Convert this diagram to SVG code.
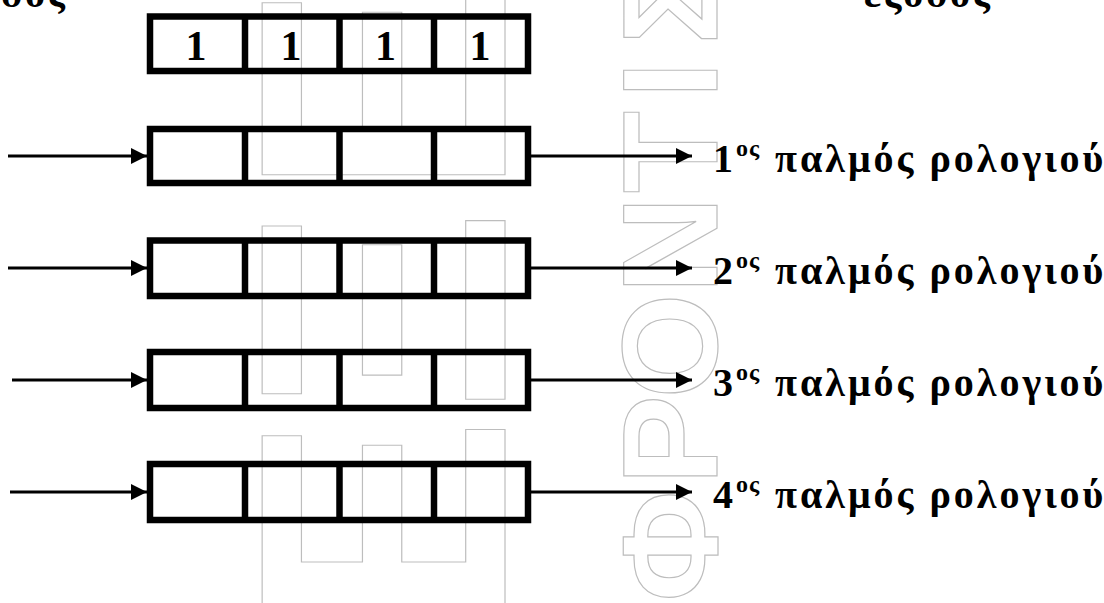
<svg xmlns="http://www.w3.org/2000/svg" width="1104" height="603" viewBox="0 0 1104 603">
<defs>
<style>
.wm{font-family:"Liberation Sans",Arial,sans-serif;font-weight:bold;fill:none;stroke:#bdbdbd;stroke-width:1.2;text-anchor:middle}
.reg{fill:none;stroke:#000;stroke-width:6.5}
.div{stroke:#000;stroke-width:6.5}
.ar{stroke:#000;stroke-width:3.2;fill:none;marker-end:url(#ah)}
.lbl{font-family:"Liberation Serif","Times New Roman",serif;font-weight:bold;font-size:40px;fill:#000}
.sup{font-family:"Liberation Serif","Times New Roman",serif;font-weight:bold;font-size:24px;fill:#000}
.one{font-family:"Liberation Serif","Times New Roman",serif;font-weight:bold;font-size:42px;fill:#000;text-anchor:middle}
</style>
<marker id="ah" markerUnits="userSpaceOnUse" markerWidth="17" markerHeight="16" refX="16" refY="8" orient="auto">
<path d="M0,0 L16,8 L0,16 z" fill="#000"/>
</marker>
</defs>

<g id="watermark">
<text class="wm" font-size="353" transform="translate(505,523) rotate(-90) scale(0.9,1)">Ε</text>
<text class="wm" font-size="353" transform="translate(505,310) rotate(-90) scale(0.9,1)">Ξ</text>
<text class="wm" font-size="353" transform="translate(505,90) rotate(-90) scale(0.9,1)">Ε</text>
<text class="wm" font-size="135" transform="translate(717,546) rotate(-90)">Φ</text>
<text class="wm" font-size="135" transform="translate(717,440) rotate(-90)">Ρ</text>
<text class="wm" font-size="135" transform="translate(717,346) rotate(-90)">Ο</text>
<text class="wm" font-size="135" transform="translate(717,245) rotate(-90)">Ν</text>
<text class="wm" font-size="135" transform="translate(717,152) rotate(-90)">Τ</text>
<text class="wm" font-size="135" transform="translate(717,80) rotate(-90)">Ι</text>
<text class="wm" font-size="135" transform="translate(717,4) rotate(-90)">Σ</text>
</g>

<g id="titles">
<text class="lbl" x="68" y="7" text-anchor="end" letter-spacing="3">είσοδος</text>
<text class="lbl" x="864" y="7" letter-spacing="3">έξοδος</text>
</g>

<g id="reg0">
<rect class="reg" x="150" y="16.5" width="378" height="54.5"/>
<line class="div" x1="245" y1="16.5" x2="245" y2="71"/>
<line class="div" x1="339.5" y1="16.5" x2="339.5" y2="71"/>
<line class="div" x1="434" y1="16.5" x2="434" y2="71"/>
<text class="one" x="196" y="60">1</text>
<text class="one" x="291" y="60">1</text>
<text class="one" x="385.5" y="60">1</text>
<text class="one" x="480" y="60">1</text>
</g>

<g id="reg1">
<rect class="reg" x="150" y="129" width="378" height="54"/>
<line class="div" x1="245" y1="129" x2="245" y2="183"/>
<line class="div" x1="339.5" y1="129" x2="339.5" y2="183"/>
<line class="div" x1="434" y1="129" x2="434" y2="183"/>
</g>
<g id="reg2">
<rect class="reg" x="150" y="240.5" width="378" height="55.5"/>
<line class="div" x1="245" y1="240.5" x2="245" y2="296"/>
<line class="div" x1="339.5" y1="240.5" x2="339.5" y2="296"/>
<line class="div" x1="434" y1="240.5" x2="434" y2="296"/>
</g>
<g id="reg3">
<rect class="reg" x="150" y="352" width="378" height="56"/>
<line class="div" x1="245" y1="352" x2="245" y2="408"/>
<line class="div" x1="339.5" y1="352" x2="339.5" y2="408"/>
<line class="div" x1="434" y1="352" x2="434" y2="408"/>
</g>
<g id="reg4">
<rect class="reg" x="150" y="464" width="378" height="56"/>
<line class="div" x1="245" y1="464" x2="245" y2="520"/>
<line class="div" x1="339.5" y1="464" x2="339.5" y2="520"/>
<line class="div" x1="434" y1="464" x2="434" y2="520"/>
</g>

<g id="connectors">
<line class="ar" x1="8" y1="156" x2="147" y2="156"/>
<line class="ar" x1="8" y1="268" x2="147" y2="268"/>
<line class="ar" x1="12" y1="380" x2="147" y2="380"/>
<line class="ar" x1="10" y1="492" x2="147" y2="492"/>
<line class="ar" x1="531" y1="156" x2="692" y2="156"/>
<line class="ar" x1="531" y1="268" x2="692" y2="268"/>
<line class="ar" x1="531" y1="380" x2="692" y2="380"/>
<line class="ar" x1="531" y1="492" x2="692" y2="492"/>
</g>

<g id="label1">
<text class="lbl" x="713" y="172">1</text><text class="sup" x="736" y="156" letter-spacing="1">ος</text>
<text class="lbl" x="775" y="172" letter-spacing="3">παλμός ρολογιού</text>
</g>
<g id="label2">
<text class="lbl" x="713" y="284">2</text><text class="sup" x="736" y="268" letter-spacing="1">ος</text>
<text class="lbl" x="775" y="284" letter-spacing="3">παλμός ρολογιού</text>
</g>
<g id="label3">
<text class="lbl" x="713" y="396">3</text><text class="sup" x="736" y="380" letter-spacing="1">ος</text>
<text class="lbl" x="775" y="396" letter-spacing="3">παλμός ρολογιού</text>
</g>
<g id="label4">
<text class="lbl" x="713" y="508">4</text><text class="sup" x="736" y="492" letter-spacing="1">ος</text>
<text class="lbl" x="775" y="508" letter-spacing="3">παλμός ρολογιού</text>
</g>
</svg>
